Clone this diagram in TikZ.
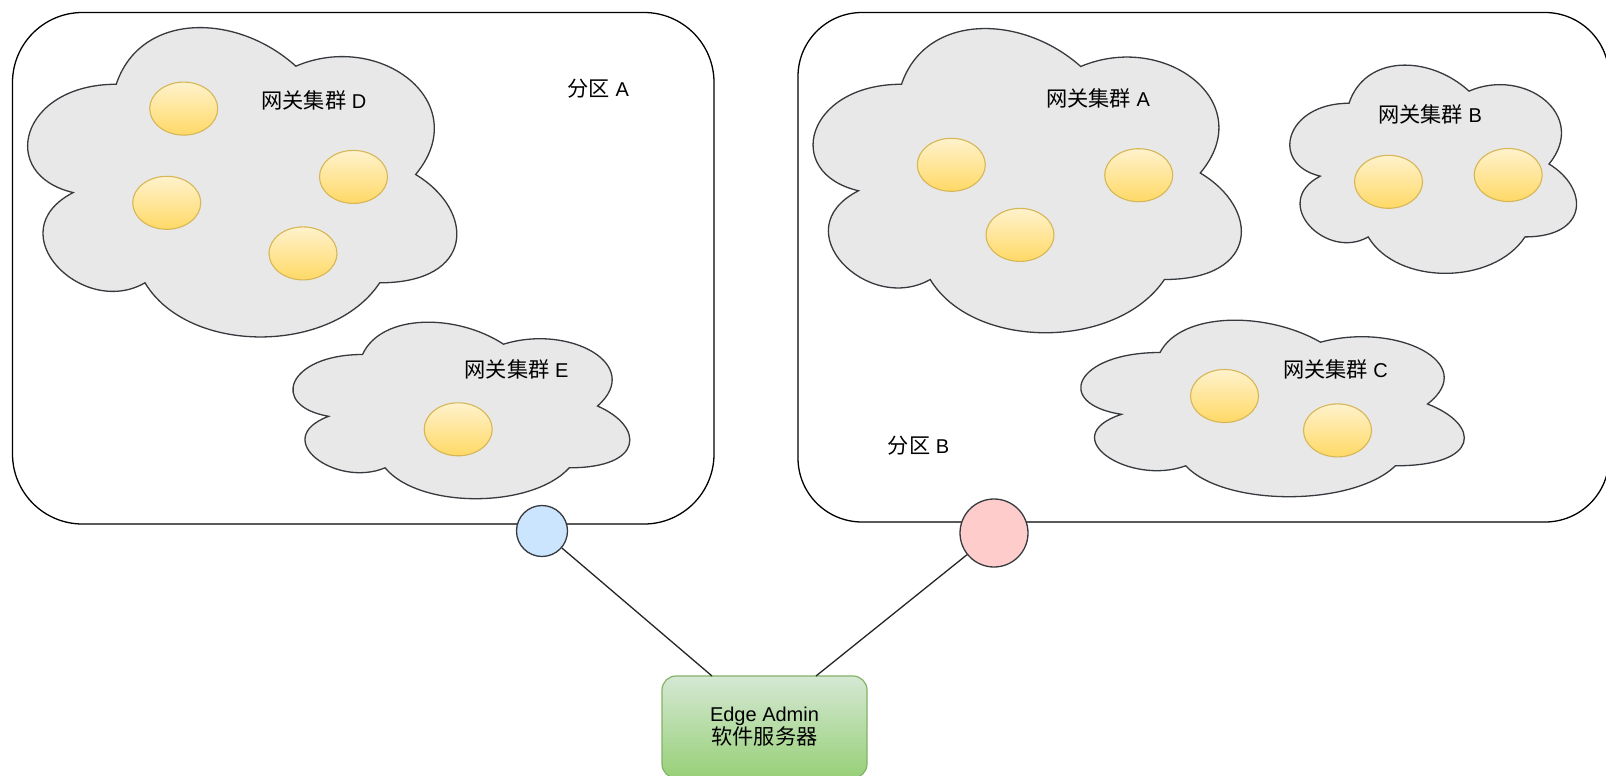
\documentclass[tikz,border=0pt]{standalone}
\usepackage{fontspec}
\setmainfont{Liberation Sans}
\newfontfamily\cjk[Scale=1.06]{Noto Sans CJK SC}
\usetikzlibrary{shapes.geometric}
\definecolor{cloudfill}{HTML}{E8E8E8}
\definecolor{darkline}{HTML}{36393D}
\definecolor{gwtop}{HTML}{FFF2CC}
\definecolor{gwbot}{HTML}{FFD966}
\definecolor{gwline}{HTML}{D6B656}
\definecolor{srvtop}{HTML}{D5E8D4}
\definecolor{srvbot}{HTML}{97D077}
\definecolor{srvline}{HTML}{82B366}
\definecolor{bluefill}{HTML}{CCE5FF}
\definecolor{pinkfill}{HTML}{FFCCCC}
\newcommand\gwcloud[4]{%
  \begin{scope}[shift={(#1,#2)},xscale=#3,yscale=#4]
    \filldraw[cloudsty] (0.25,0.25)
      .. controls (0.05,0.25) and (0,0.5) .. (0.16,0.55)
      .. controls (0,0.66) and (0.18,0.9) .. (0.31,0.8)
      .. controls (0.4,1) and (0.7,1) .. (0.8,0.8)
      .. controls (1,0.8) and (1,0.6) .. (0.875,0.5)
      .. controls (1,0.3) and (0.8,0.1) .. (0.625,0.2)
      .. controls (0.5,0.05) and (0.3,0.05) .. (0.25,0.25) -- cycle;
  \end{scope}}
\begin{document}
\begin{tikzpicture}[x=1pt,y=-1pt,
  cloudsty/.style={fill=cloudfill,draw=darkline,line width=1.3pt},
  zonebox/.style={draw=black,line width=1.3pt,rounded corners=#1},
  gw/.style={ellipse,draw=gwline,line width=1.1pt,top color=gwtop,bottom color=gwbot,
    minimum width=68pt,minimum height=53pt,inner sep=0pt},
  lbl/.style={font=\fontsize{20}{23}\selectfont,inner sep=0pt},
  port/.style={circle,draw=darkline,line width=1.3pt,inner sep=0pt},
  srvbox/.style={draw=srvline,line width=1.2pt,rounded corners=14pt,top color=srvtop,
    bottom color=srvbot,minimum width=205pt,minimum height=102pt,align=center,
    font=\fontsize{20}{23}\selectfont},
  link/.style={draw=black!85,line width=1.3pt}]
\useasboundingbox (0,0) rectangle (1606,776);
\clip (0,0) rectangle (1606,776);
\fill[white] (0,0) rectangle (1606,776);

% zones
\draw[zonebox=70pt] (12.5,12.5) rectangle (714,524);
\draw[zonebox=64pt] (798,12.5) rectangle (1609,522);

% clouds
\gwcloud{-3.5}{-6}{479}{361}
\gwcloud{268.5}{303}{376}{206}
\gwcloud{782}{-4.5}{478}{355}
\gwcloud{1269}{42.5}{320}{243}
\gwcloud{1053}{301}{428}{206}

% labels
\node[lbl] (labD) at (313.8,100) {{\cjk 网关集群} D};
\node[lbl] (zoneA) at (598.3,89) {{\cjk 分区} A};
\node[lbl] (labE) at (516.5,369.7) {{\cjk 网关集群} E};
\node[lbl] (labA) at (1098,98) {{\cjk 网关集群} A};
\node[lbl] (labB) at (1430,114.7) {{\cjk 网关集群} B};
\node[lbl] (labC) at (1335.4,369) {{\cjk 网关集群} C};
\node[lbl] (zoneB) at (918.5,446) {{\cjk 分区} B};

% gateway nodes
\node[gw] (d1) at (183.7,108.6) {};
\node[gw] (d2) at (353.5,176.9) {};
\node[gw] (d3) at (166.7,202.8) {};
\node[gw] (d4) at (303,253.4) {};
\node[gw] (e1) at (458.2,429.3) {};
\node[gw] (a1) at (951.3,164.8) {};
\node[gw] (a2) at (1138.7,175.2) {};
\node[gw] (a3) at (1020,234.9) {};
\node[gw] (b1) at (1388.5,181.8) {};
\node[gw] (b2) at (1508.2,175) {};
\node[gw] (c1) at (1224.5,396) {};
\node[gw] (c2) at (1337.5,430.4) {};

% ports
\node[port,fill=bluefill,minimum size=51pt] (pA) at (542,531) {};
\node[port,fill=pinkfill,minimum size=68pt] (pB) at (994,533) {};

% server
\node[srvbox] (srv) at (764.5,727) {Edge Admin\\{\cjk 软件服务器}};
\coordinate (srvL) at (712,676);
\coordinate (srvR) at (816,676);
\draw[link] (pA) -- (srvL);
\draw[link] (pB) -- (srvR);
\end{tikzpicture}
\end{document}
